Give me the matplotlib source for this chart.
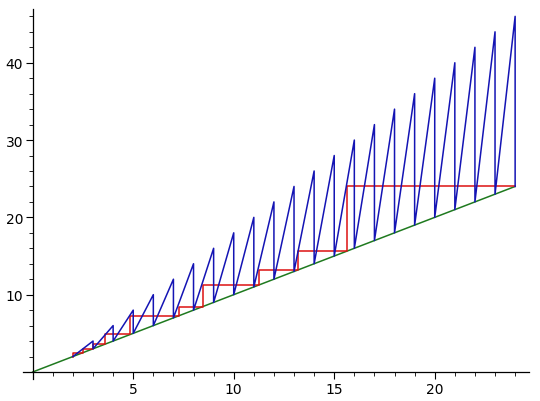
import numpy as np
import matplotlib
matplotlib.use("Agg")
import matplotlib.pyplot as plt
from matplotlib.ticker import MultipleLocator

# green diagonal y = x
diag_x = [0, 24]
diag_y = [0, 24]

# blue sawtooth: rises from (n, n) to a peak at n+1, then drops back to the diagonal
base_x = [2, 3, 4, 5, 6, 7, 8, 9, 10, 11, 12, 13, 14, 15, 16, 17, 18, 19, 20, 21, 22, 23]
peak_x = [3, 4, 5, 6, 7, 8, 9, 10, 11, 12, 13, 14, 15, 16, 17, 18, 19, 20, 21, 22, 23, 24]
peak_y = [4, 6, 8, 10, 12, 14, 16, 18, 20, 22, 24, 26, 28, 30, 32, 34, 36, 38, 40, 42, 44, 46]

# red staircase levels (cobweb against y = x)
stair = [2, 2.5, 3, 3.6, 4.85, 7.3, 8.45, 11.25, 13.2, 15.65, 24]

blue_x, blue_y = [], []
for b, px, py in zip(base_x, peak_x, peak_y):
    blue_x += [b, px, px]
    blue_y += [b, py, px]

red_x, red_y = [], []
for a, b in zip(stair[:-1], stair[1:]):
    red_x += [a, a, b]
    red_y += [a, b, b]

fig = plt.figure(figsize=(5.4, 4.02), dpi=100)
ax = fig.add_axes([0.042, 0.0545, 0.938, 0.92])

ax.plot(diag_x, diag_y, color='#1f7a1f', lw=1.1, zorder=1)
ax.plot(red_x, red_y, color='#dd1111', lw=1.1, zorder=2)
ax.plot(blue_x, blue_y, color='#1414b4', lw=1.1, zorder=3)

ax.set_xlim(-0.5, 24.7)
ax.set_ylim(-0.92, 46.92)

ax.spines['left'].set_position(('data', 0))
ax.spines['bottom'].set_position(('data', 0))
ax.spines['top'].set_visible(False)
ax.spines['right'].set_visible(False)
for s in ['left', 'bottom']:
    ax.spines[s].set_linewidth(0.9)

ax.set_xticks([5, 10, 15, 20])
ax.set_yticks([10, 20, 30, 40])
ax.xaxis.set_minor_locator(MultipleLocator(1))
ax.yaxis.set_minor_locator(MultipleLocator(2))
ax.tick_params(which='major', direction='out', length=5, width=0.8, labelsize=10, pad=2)
ax.tick_params(which='minor', direction='out', length=3, width=0.6)

fig.savefig("out.png", dpi=100)
